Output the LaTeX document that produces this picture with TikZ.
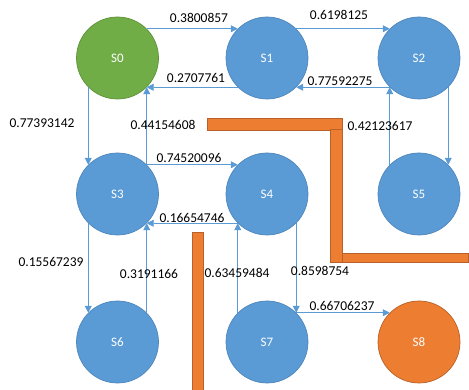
\documentclass[tikz,border=0pt]{standalone}
\usepackage{fontspec}
\setmainfont{Carlito}
\usetikzlibrary{arrows.meta}
\definecolor{bluefill}{HTML}{5B9BD5}
\definecolor{blueline}{HTML}{4F86BC}
\definecolor{greenfill}{HTML}{70AD47}
\definecolor{greenline}{HTML}{5E9239}
\definecolor{orangefill}{HTML}{ED7D31}
\definecolor{orangeline}{HTML}{B8622A}
\definecolor{arrowcol}{HTML}{5B9BD5}
\tikzset{
  state/.style={circle, minimum size=82pt, inner sep=0pt, line width=0.7pt, draw=blueline, fill=bluefill, text=white, font=\fontsize{13}{15}\selectfont},
  startstate/.style={state, draw=greenline, fill=greenfill},
  goalstate/.style={state, draw=orangeline, fill=orangefill},
  arr/.style={draw=arrowcol, line width=0.7pt, -{Triangle[length=7pt,width=7pt]}},
  lbl/.style={inner sep=0pt, text=black, font=\fontsize{13.5}{16}\selectfont},
  wall/.style={fill=orangefill, draw=orangeline, line width=0.8pt}
}
\begin{document}
\begin{tikzpicture}[x=1pt, y=-1pt]
\useasboundingbox (0,0) rectangle (469,390);
% walls
\draw[wall] (207,118) rectangle (342,130);
\draw[wall] (330,129) rectangle (342,262);
\draw[wall] (342,253) rectangle (468,262);
\draw[wall] (192,232) rectangle (203,392);
% states
\node[startstate] (S0) at (117.5,58) {S0};
\node[state] (S1) at (267,58) {S1};
\node[state] (S2) at (419,58) {S2};
\node[state] (S3) at (117.5,194) {S3};
\node[state] (S4) at (267,194) {S4};
\node[state] (S5) at (419,194) {S5};
\node[state] (S6) at (117.5,342) {S6};
\node[state] (S7) at (267,342) {S7};
\node[goalstate] (S8) at (419,342) {S8};
% arrows
\draw[arr] (S0.45) -- (S1.135);
\draw[arr] (S1.45) -- (S2.135);
\draw[arr] (S1.-135) -- (S0.-45);
\draw[arr] (S2.-135) -- (S1.-45);
\draw[arr] (S0.-135) -- (S3.135);
\draw[arr] (S3.45) -- (S0.-45);
\draw[arr] (S5.135) -- (S2.-135);
\draw[arr] (S2.-45) -- (S5.45);
\draw[arr] (S3.45) -- (S4.135);
\draw[arr] (S4.-135) -- (S3.-45);
\draw[arr] (S3.-135) -- (S6.135);
\draw[arr] (S6.45) -- (S3.-45);
\draw[arr] (S7.135) -- (S4.-135);
\draw[arr] (S4.-45) -- (S7.45);
\draw[arr] (S7.45) -- (S8.135);
% labels
\node[lbl] (l01) at (199,18) {0.3800857};
\node[lbl] (l12) at (339,15) {0.6198125};
\node[lbl] (l10) at (196,78) {0.2707761};
\node[lbl] (l21) at (340,81) {0.77592275};
\node[lbl] (l03) at (42,123) {0.77393142};
\node[lbl] (l30) at (163,125) {0.44154608};
\node[lbl] (l25) at (380,126) {0.42123617};
\node[lbl] (l34) at (189,158) {0.74520096};
\node[lbl] (l43) at (192,218) {0.16654746};
\node[lbl] (l36) at (51,262) {0.15567239};
\node[lbl] (l63) at (149,274) {0.3191166};
\node[lbl] (l74) at (237,273) {0.63459484};
\node[lbl] (l47) at (320,271) {0.8598754};
\node[lbl] (l78) at (342,306) {0.66706237};
\end{tikzpicture}
\end{document}
